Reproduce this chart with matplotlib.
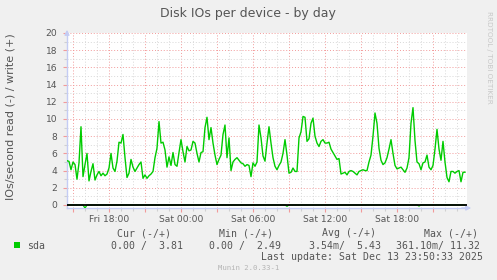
import matplotlib
matplotlib.use("Agg")
import matplotlib.pyplot as plt
import matplotlib.dates as mdates
from matplotlib.patches import Rectangle
from datetime import datetime, timedelta

# ---------------- data ----------------
title = "Disk IOs per device - by day"
ylabel = "IOs/second read (-) / write (+)"
start = datetime(2025, 12, 12, 14, 30, 33)
end = datetime(2025, 12, 13, 23, 50, 33)
step_minutes = 10

# write IOs/s (positive side), one sample every 10 minutes
write_vals = [
    5.15, 5.07, 4.1, 5.0, 4.7, 3.0, 4.9, 9.1, 3.3, 4.7,
    6.0, 2.8, 3.9, 4.8, 2.9, 3.5, 3.9, 3.4, 3.7, 3.4,
    3.6, 4.3, 6.0, 4.3, 3.9, 5.1, 7.3, 7.2, 8.2, 5.5,
    3.2, 3.7, 5.3, 4.4, 3.9, 4.3, 4.7, 5.0, 3.1, 3.5,
    3.1, 3.4, 3.6, 3.9, 5.5, 6.6, 9.7, 7.2, 7.3, 6.4,
    4.4, 5.6, 4.6, 6.1, 4.7, 4.5, 6.1, 7.6, 6.2, 5.0,
    6.8, 6.3, 6.4, 7.4, 7.2, 6.0, 5.0, 6.1, 6.2, 9.0,
    10.2, 7.6, 9.0, 7.2, 5.8, 4.7, 5.3, 5.8, 8.2, 9.3,
    5.5, 7.8, 4.0, 5.0, 5.3, 5.5, 5.2, 4.9, 4.8, 4.5,
    4.7, 4.6, 3.3, 4.9, 4.5, 5.0, 9.3, 7.8, 5.7, 5.1,
    7.2, 9.1, 7.2, 5.5, 4.5, 4.1, 4.6, 5.0, 6.0, 7.6,
    5.8, 3.7, 3.8, 4.3, 3.9, 3.9, 7.8, 8.5, 10.3, 10.2,
    7.4, 7.7, 9.5, 10.1, 8.0, 7.2, 6.8, 7.4, 7.6, 7.2,
    7.2, 7.3, 6.5, 6.1, 5.7, 5.3, 5.4, 3.6, 3.7, 3.8,
    3.5, 3.9, 4.0, 3.9, 3.7, 3.5, 3.9, 4.0, 4.1, 4.0,
    4.0, 5.0, 5.8, 8.0, 10.7, 9.5, 6.6, 5.2, 4.7, 4.9,
    5.5, 6.5, 7.6, 6.0, 4.6, 4.2, 4.3, 4.4, 4.1, 3.8,
    4.3, 5.5, 9.5, 11.32, 7.5, 5.0, 4.8, 4.1, 4.9, 5.0,
    5.8, 4.4, 4.1, 4.6, 6.5, 8.8, 6.5, 5.2, 7.4, 5.0,
    3.2, 2.7, 3.9, 3.9, 3.7, 3.9, 4.0, 2.7, 3.8, 3.81,
]
# read IOs/s (drawn negative): zero except for a few tiny blips
read_blip_times = [datetime(2025, 12, 12, 16, 0, 33),
                   datetime(2025, 12, 13, 8, 50, 33),
                   datetime(2025, 12, 13, 19, 50, 33)]
read_blip_vals = [0.36, 0.15, 0.12]

legend_label = "sda"
legend_headers = ["Cur (-/+)", "Min (-/+)", "Avg (-/+)", "Max (-/+)"]
legend_values = ["0.00 /  3.81", "0.00 /  2.49", "3.54m/  5.43", "361.10m/ 11.32"]
last_update = "Last update: Sat Dec 13 23:50:33 2025"
footer = "Munin 2.0.33-1"
watermark = "RRDTOOL / TOBI OETIKER"
yticks = list(range(0, 21, 2))

# ---------------- derived series ----------------
times = [start + timedelta(minutes=step_minutes * i) for i in range(len(write_vals))]
read_vals = [0.0] * len(times)
for t, v in zip(read_blip_times, read_blip_vals):
    idx = min(range(len(times)), key=lambda i: abs((times[i] - t).total_seconds()))
    read_vals[idx] = v
read_neg = [-v for v in read_vals]

# ---------------- figure ----------------
W, H = 497, 280
fig = plt.figure(figsize=(W / 100, H / 100), dpi=100, facecolor="#F0F0F0")
ax_l, ax_r, ax_t, ax_b = 67, 467, 33, 208
ax = fig.add_axes([ax_l / W, 1 - ax_b / H, (ax_r - ax_l) / W, (ax_b - ax_t) / H])
ax.set_facecolor("white")

GREEN = "#00CC00"
TXT = "#555555"
AXC = "#C4CCF4"

ax.plot(times, read_neg, color=GREEN, lw=0.9, zorder=3)
ax.axhline(0, color="black", lw=1.3, zorder=4)
ax.plot(times, write_vals, color=GREEN, lw=1.0, zorder=5)

ax.set_xlim(start, end)
ax.set_ylim(-0.35, 20)

# x grid: hourly minor, 3-hourly major, labels every 6 h
ax.xaxis.set_minor_locator(mdates.HourLocator(interval=1))
ax.xaxis.set_major_locator(mdates.HourLocator(byhour=range(0, 24, 3)))
day_names = {4: "Fri", 5: "Sat", 6: "Sun", 0: "Mon", 1: "Tue", 2: "Wed", 3: "Thu"}


def xfmt(x, pos=None):
    d = mdates.num2date(x)
    if d.hour % 6 != 0:
        return ""
    return f"{day_names[d.weekday()]} {d.hour:02d}:00"


ax.xaxis.set_major_formatter(plt.FuncFormatter(xfmt))
ax.set_yticks(yticks)
ax.set_yticks(range(1, 20, 2), minor=True)

ax.grid(which="minor", color="#D8D8D8", lw=0.7, ls=(0, (1, 2)), zorder=1)
ax.grid(which="major", color="#F29A9A", lw=0.7, ls=(0, (1, 2)), zorder=2)

ax.tick_params(axis="both", which="major", labelsize=6.6, labelcolor=TXT,
               color="#F29A9A", length=3, width=0.8, pad=2)
ax.tick_params(axis="both", which="minor", color="#D0D0D0", length=2, width=0.8)
ax.tick_params(axis="y", which="major", pad=4)

for s in ("top", "right"):
    ax.spines[s].set_visible(False)
for s in ("left", "bottom"):
    ax.spines[s].set_color(AXC)
    ax.spines[s].set_linewidth(1.0)

# axis arrows
ax.annotate("", xy=(0, 1 + 6 / 175), xytext=(0, 0.98), xycoords="axes fraction",
            arrowprops=dict(arrowstyle="-|>", color=AXC, lw=1.0, mutation_scale=7),
            annotation_clip=False)
ax.annotate("", xy=(1 + 7 / 400, 0), xytext=(0.98, 0), xycoords="axes fraction",
            arrowprops=dict(arrowstyle="-|>", color=AXC, lw=1.0, mutation_scale=7),
            annotation_clip=False)


def fx(px):
    return px / W


def fy(py):
    return 1 - py / H


fig.text(fx(248), fy(13.5), title, ha="center", va="center", fontsize=9.0, color=TXT)
fig.text(fx(11), fy(117), ylabel, ha="center", va="center", rotation=90,
         fontsize=8.0, color=TXT)
fig.text(fx(489), fy(57), watermark, ha="center", va="center", rotation=270,
         fontsize=5.2, color="#C8C8C8")

mono = "DejaVu Sans Mono"
fig.patches.append(Rectangle((fx(14), fy(248)), 6 / W, 6 / H, transform=fig.transFigure,
                             facecolor=GREEN, edgecolor="none"))
fig.text(fx(26.7), fy(245.7), legend_label, ha="left", va="center",
         family=mono, fontsize=7.1, color=TXT)
header_x = [116.7, 219.3, 322, 423.7]
value_x = [110.7, 209.3, 308.7, 396]
for hx, h in zip(header_x, legend_headers):
    fig.text(fx(hx), fy(233.3), h, ha="left", va="center", family=mono,
             fontsize=7.1, color=TXT)
for vx, v in zip(value_x, legend_values):
    fig.text(fx(vx), fy(246), v, ha="left", va="center", family=mono,
             fontsize=7.1, color=TXT)
fig.text(fx(483), fy(257.3), last_update, ha="right", va="center", family=mono,
         fontsize=7.1, color=TXT)
fig.text(fx(248.5), fy(268.5), footer, ha="center", va="center", family=mono,
         fontsize=5.2, color="#B4B4B4")

fig.savefig("out.png", dpi=100, facecolor=fig.get_facecolor())
